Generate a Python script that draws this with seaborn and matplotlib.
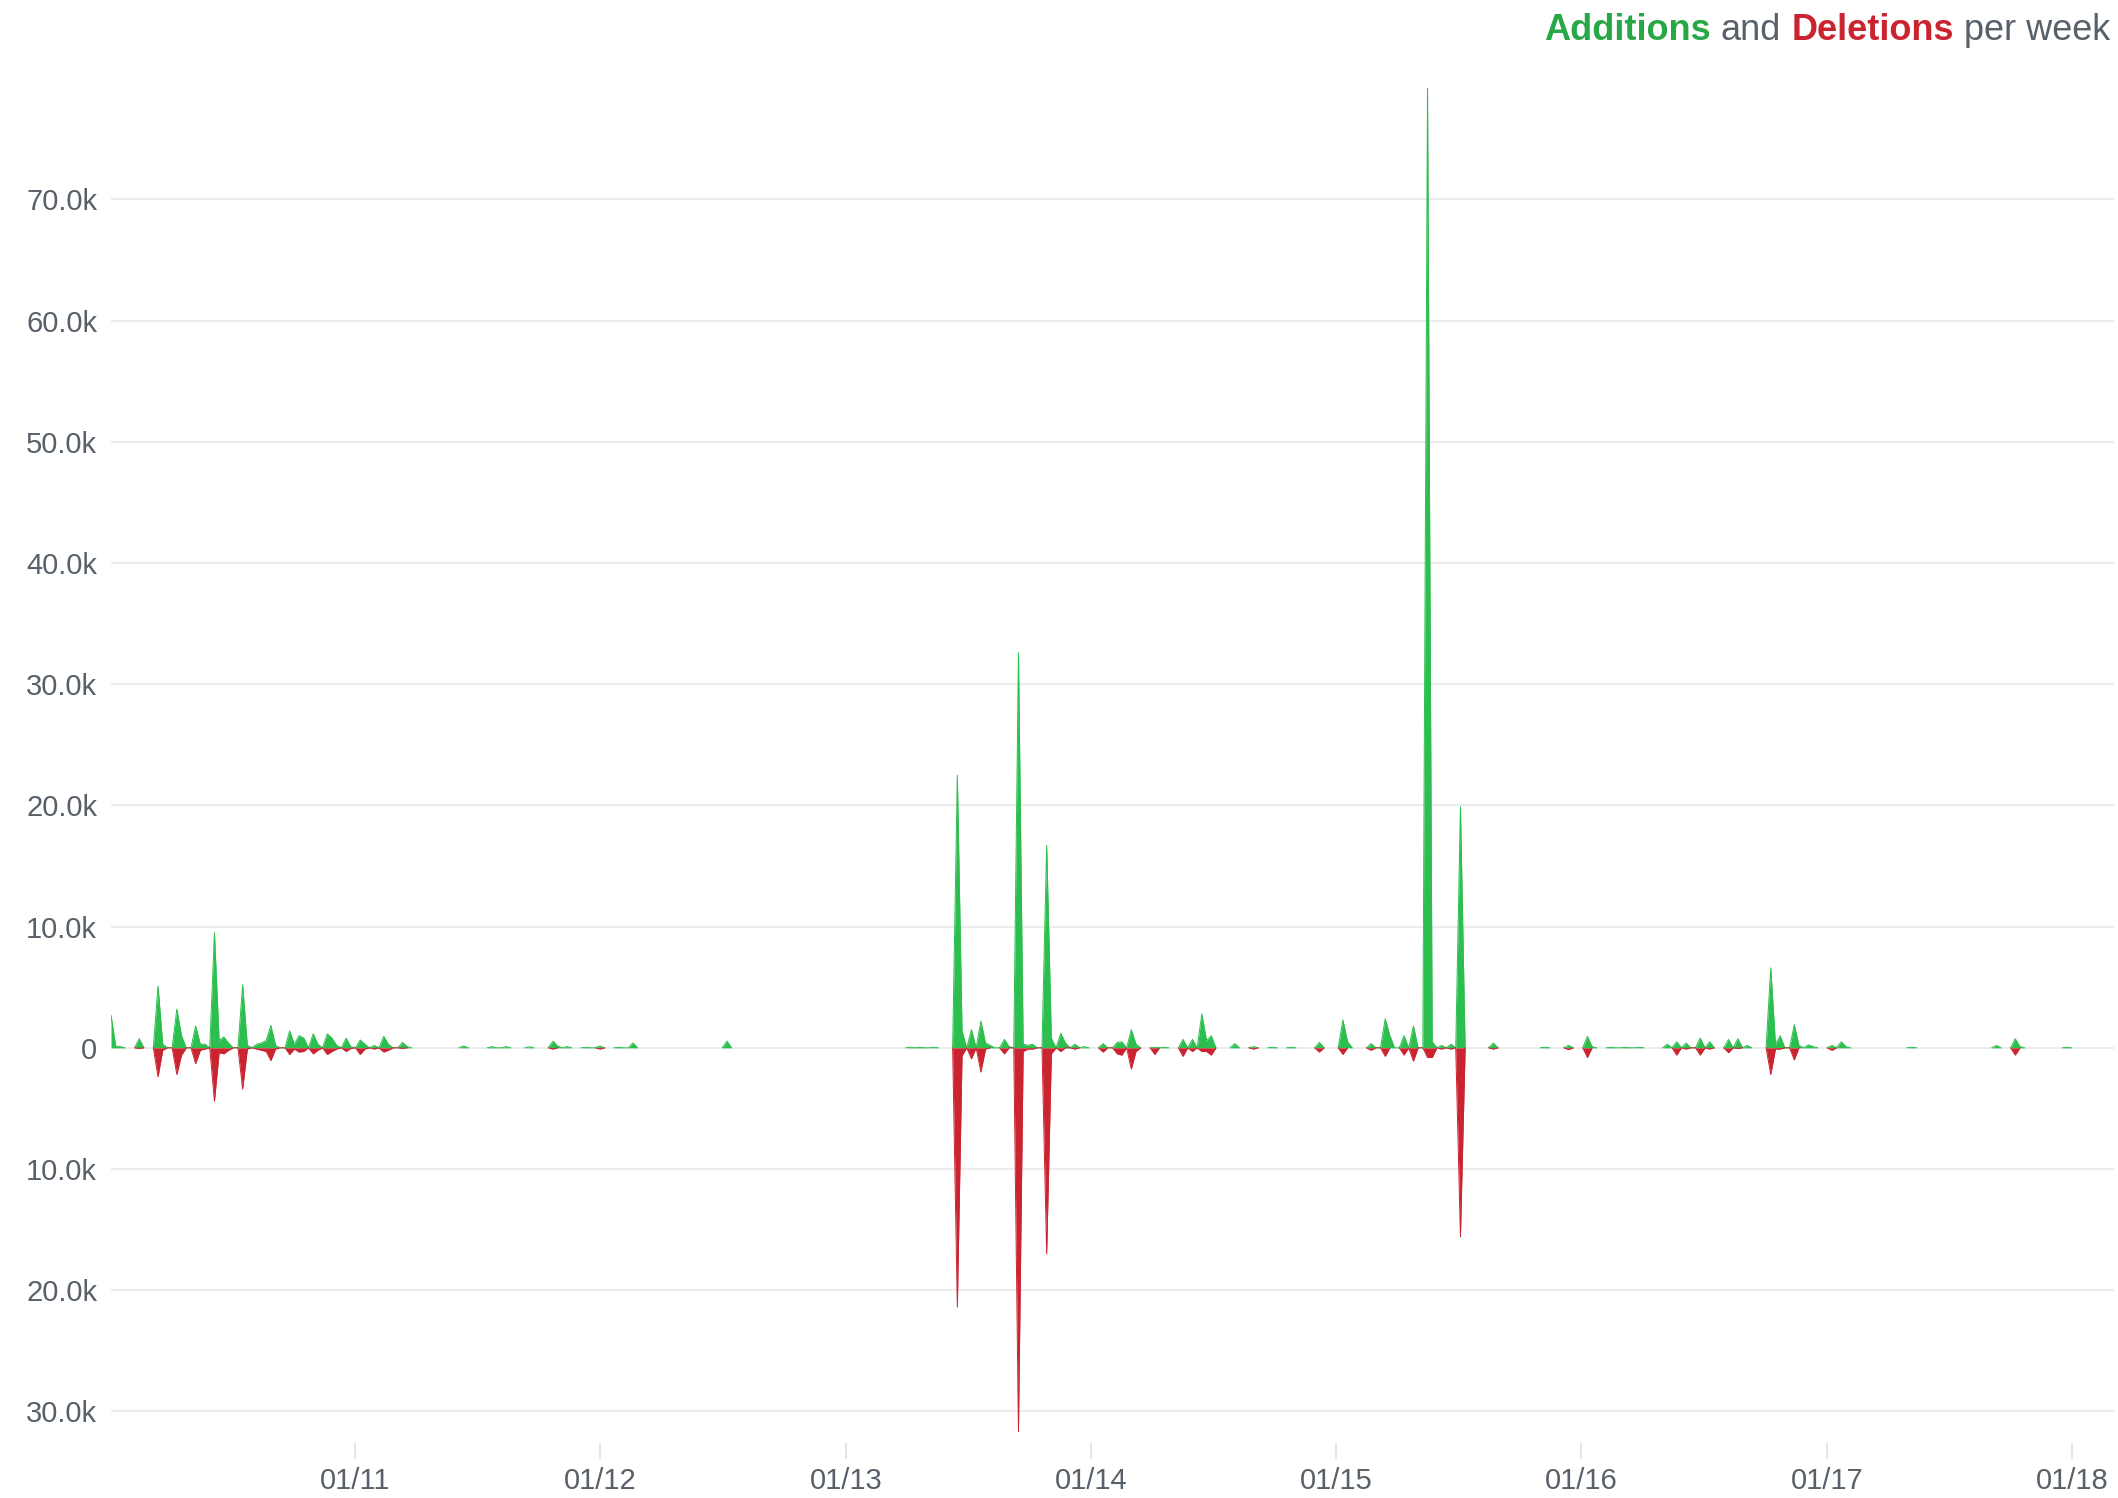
import numpy as np
import pandas as pd
import matplotlib
matplotlib.use("Agg")
import matplotlib.pyplot as plt
import matplotlib.dates as mdates
import matplotlib.ticker as mticker
import seaborn as sns

# ---------------- data (values in thousands of lines, weekly) ----------------
START_WEEK = "2010-01-03"   # first week shown (Sunday)
LAST_WEEK_NO = 426          # last week shown (2018-03-04)

week_no = [0, 1, 2, 6, 10, 11, 14, 15, 18, 19, 20, 22, 23, 24, 25, 28, 29, 31, 32, 33,
           34, 35, 38, 39, 40, 41, 43, 44, 46, 47, 48, 50, 51, 53, 54, 56, 58, 59, 62, 63,
           75, 81, 84, 89, 94, 95, 97, 101, 104, 108, 111, 131, 170, 172, 175,
           180, 181, 183, 185, 186, 187, 190, 191, 193, 194, 195, 196, 199, 200, 202,
           203, 205, 207, 211, 214, 215, 217, 218, 222, 224, 228, 230, 232, 233, 234,
           239, 243, 247, 251, 257, 262, 263, 268, 271, 272, 275, 277, 280, 281, 283,
           285, 287, 294, 305, 310, 314, 315, 319, 322, 325, 331, 333, 335, 338, 340,
           344, 346, 348, 353, 354, 355, 358, 359, 361, 362, 366, 368, 369, 383, 401,
           405, 406, 416]

additions_k = [2.7, 0.15, 0.1, 0.75, 5.1, 0.3, 3.2, 1.0, 1.8, 0.3, 0.3, 9.5, 0.6, 0.9, 0.4, 5.2, 0.2, 0.3, 0.4, 0.6,
               1.85, 0.2, 1.4, 0.3, 1.0, 0.8, 1.15, 0.3, 1.15, 0.8, 0.2, 0.8, 0.1, 0.65, 0.3, 0.2, 0.95, 0.3, 0.45, 0.1,
               0.15, 0.1, 0.1, 0.08, 0.55, 0.15, 0.1, 0.05, 0.15, 0.05, 0.4, 0.55, 0.05, 0.05, 0.05,
               22.5, 1.4, 1.5, 2.2, 0.4, 0.2, 0.7, 0.1, 32.6, 0.3, 0.2, 0.3, 16.7, 0.8, 1.2,
               0.4, 0.3, 0.1, 0.35, 0.45, 0.5, 1.5, 0.3, 0.05, 0.05, 0.7, 0.7, 2.8, 0.6, 1.0,
               0.35, 0.1, 0.05, 0.05, 0.45, 2.3, 0.5, 0.35, 2.4, 1.0, 1.0, 1.8, 79.2, 0.5, 0.2,
               0.3, 19.9, 0.4, 0.05, 0.2, 0.95, 0.1, 0.05, 0.05, 0.05, 0.3, 0.5, 0.4, 0.8, 0.5,
               0.7, 0.75, 0.2, 6.6, 0.3, 1.0, 1.9, 0.2, 0.25, 0.1, 0.2, 0.5, 0.1, 0.05, 0.2,
               0.75, 0.1, 0.05]

deletions_k = [0, 0, 0, 0.05, 2.4, 0.2, 2.2, 0.6, 1.3, 0.2, 0.1, 4.4, 0.4, 0.5, 0.2, 3.4, 0.1, 0.1, 0.2, 0.3,
               1.05, 0.1, 0.55, 0.1, 0.35, 0.3, 0.5, 0.2, 0.55, 0.3, 0.1, 0.3, 0.05, 0.55, 0.1, 0.1, 0.35, 0.2, 0.05, 0,
               0, 0, 0, 0, 0.1, 0, 0, 0, 0.1, 0, 0, 0, 0, 0, 0,
               21.4, 0.65, 0.9, 2.0, 0.1, 0, 0.5, 0, 31.7, 0.3, 0.1, 0.1, 17.0, 0.5, 0.3,
               0, 0.1, 0, 0.35, 0.5, 0.6, 1.75, 0.3, 0.55, 0, 0.7, 0.3, 0.3, 0.3, 0.6,
               0, 0.1, 0, 0, 0.35, 0.55, 0, 0.2, 0.7, 0, 0.6, 1.1, 0.8, 0.8, 0.1,
               0.1, 15.6, 0.1, 0, 0.15, 0.8, 0, 0, 0, 0, 0, 0.6, 0.1, 0.6, 0.1,
               0.4, 0.05, 0, 2.2, 0.1, 0.1, 1.0, 0, 0, 0, 0.2, 0, 0, 0, 0,
               0.6, 0, 0]

year_ticks = ["2011-01-01", "2012-01-01", "2013-01-01", "2014-01-01",
              "2015-01-01", "2016-01-01", "2017-01-01", "2018-01-01"]
y_ticks_k = [-30, -20, -10, 0, 10, 20, 30, 40, 50, 60, 70]

title_parts = [("Additions", "#28a745", "bold"), ("and", "#586069", "normal"),
               ("Deletions", "#cb2431", "bold"), ("per week", "#586069", "normal")]

# ---------------- styling ----------------
GREEN = "#2cbe4e"
RED = "#cb2431"
TEXT = "#586069"
GRID = "#ececec"

sns.set_theme(style="white")
plt.rcParams["font.family"] = ["Liberation Sans", "DejaVu Sans"]

W, H, DPI = 2118, 1498, 100
fig = plt.figure(figsize=(W / DPI, H / DPI), dpi=DPI)
ax = fig.add_axes([111 / W, 1 - 1432 / H, (2114 - 111) / W, (1432 - 88) / H])

# ---------------- build weekly frame ----------------
all_weeks = np.arange(0, LAST_WEEK_NO + 1)
dates = pd.Timestamp(START_WEEK) + pd.to_timedelta(all_weeks * 7, unit="D")
add = pd.Series(additions_k, index=week_no).reindex(all_weeks, fill_value=0.0) * 1000
dele = pd.Series(deletions_k, index=week_no).reindex(all_weeks, fill_value=0.0) * 1000
df = pd.DataFrame({"date": dates, "additions": add.values, "deletions": -dele.values})

ax.fill_between(df["date"], 0, df["additions"], color=GREEN, lw=0, zorder=3)
ax.fill_between(df["date"], df["deletions"], 0, color=RED, lw=0, zorder=3)


def outline(col, color):
    s = df[col]
    nz = s != 0
    keep = nz | nz.shift(1, fill_value=False) | nz.shift(-1, fill_value=False)
    seg = (keep != keep.shift(1, fill_value=False)).cumsum()
    sub = df.loc[keep, ["date", col]].copy()
    sub["seg"] = seg[keep].values
    sns.lineplot(data=sub, x="date", y=col, units="seg", estimator=None,
                 color=color, lw=0.7, ax=ax, zorder=4, legend=False)


outline("additions", GREEN)
outline("deletions", RED)

# ---------------- axes ----------------
ax.set_xlim(df["date"].iloc[0], df["date"].iloc[-1])
ax.set_ylim(df["deletions"].min(), df["additions"].max())

ax.set_yticks([v * 1000 for v in y_ticks_k])
ax.yaxis.set_major_formatter(mticker.FuncFormatter(
    lambda v, p: "0" if abs(v) < 1e-9 else f"{abs(v) / 1000:.1f}k"))
ax.set_xticks(pd.to_datetime(year_ticks))
ax.xaxis.set_major_formatter(mdates.DateFormatter("%m/%y"))

ax.grid(False)
ax.yaxis.grid(True, color=GRID, lw=1.5, zorder=0)
ax.set_axisbelow(True)
for sp in ["top", "right", "left"]:
    ax.spines[sp].set_visible(False)
ax.spines["bottom"].set_position(("outward", 8))
ax.spines["bottom"].set_color("none")

ax.tick_params(axis="y", length=0, pad=10, labelsize=21, labelcolor=TEXT)
ax.tick_params(axis="x", length=11.5, width=1.1, color="#dddddd", direction="out",
               pad=6, labelsize=21, labelcolor=TEXT, bottom=True)
ax.set_xlabel("")
ax.set_ylabel("")

# ---------------- multi-coloured title, right aligned ----------------
fig.canvas.draw()
renderer = fig.canvas.get_renderer()
x_px = 2110
y_frac = 1 - 31 / H
space_px = 0.278 * 26 * DPI / 72
for text, color, weight in reversed(title_parts):
    t = fig.text(x_px / W, y_frac, text, ha="right", va="center", color=color,
                 fontweight=weight, fontsize=26)
    bb = t.get_window_extent(renderer)
    x_px = bb.x0 - space_px

fig.savefig("out.png", dpi=DPI, facecolor="white")
